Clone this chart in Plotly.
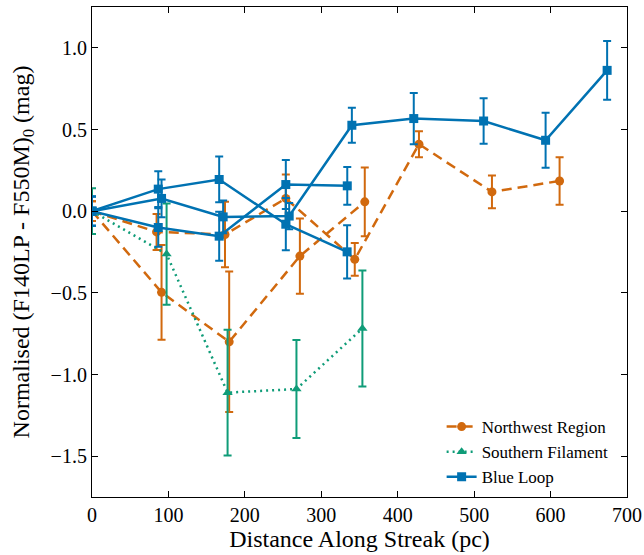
import plotly.graph_objects as go

# Northwest Region (two tracks)
nw_a_x = [0, 84.5, 174, 253.6, 343.8, 427.8, 523.3, 611.8]
nw_a_y = [0, -0.127, -0.143, 0.078, -0.295, 0.41, 0.118, 0.185]
nw_a_err = [0.06, 0.11, 0.2, 0.146, 0.1, 0.08, 0.1, 0.145]
nw_b_x = [0, 91, 179.5, 272, 356.9]
nw_b_y = [0, -0.497, -0.80, -0.275, 0.057]
nw_b_err = [0.06, 0.29, 0.43, 0.23, 0.21]

# Southern Filament
sf_x = [0, 97.6, 177.4, 267.5, 353.8]
sf_y = [0, -0.263, -1.111, -1.089, -0.718]
sf_err = [0.14, 0.31, 0.385, 0.30, 0.355]

# Blue Loop (three tracks)
bl_a_x = [0, 86.7, 166.4, 253.6, 333.8]
bl_a_y = [0, 0.135, 0.194, -0.08, -0.249]
bl_a_err = [0.09, 0.11, 0.14, 0.16, 0.163]
bl_b_x = [0, 91, 171.6, 258, 340, 421, 512.4, 593.5, 674]
bl_b_y = [0, 0.078, -0.035, -0.03, 0.526, 0.567, 0.552, 0.434, 0.862]
bl_b_err = [0.09, 0.116, 0.1, 0.08, 0.107, 0.157, 0.14, 0.168, 0.18]
bl_c_x = [0, 86.7, 166.4, 253.6, 334]
bl_c_y = [0, -0.10, -0.153, 0.163, 0.155]
bl_c_err = [0.09, 0.118, 0.15, 0.15, 0.115]

x_ticks = [0, 100, 200, 300, 400, 500, 600, 700]
y_ticks = [-1.5, -1.0, -0.5, 0.0, 0.5, 1.0]

ORANGE = "#D1690E"
TEAL = "#0F9C78"
BLUE = "#0072B2"
FONT = "Liberation Serif"

fig = go.Figure()

def add(x, y, err, name, color, dash, symbol, width, show):
    fig.add_trace(go.Scatter(
        x=x, y=y, mode="lines+markers", name=name, legendgroup=name,
        showlegend=show,
        line=dict(color=color, width=width, dash=dash),
        marker=dict(color=color, symbol=symbol, size=9),
        error_y=dict(type="data", array=err, visible=True, color=color,
                     thickness=2, width=4),
    ))

add(nw_a_x, nw_a_y, nw_a_err, "Northwest Region", ORANGE, "10px,6px", "circle", 2.5, True)
add(nw_b_x, nw_b_y, nw_b_err, "Northwest Region", ORANGE, "10px,6px", "circle", 2.5, False)
add(sf_x, sf_y, sf_err, "Southern Filament", TEAL, "2px,4px", "triangle-up", 2.5, True)
add(bl_a_x, bl_a_y, bl_a_err, "Blue Loop", BLUE, "solid", "square", 2.5, True)
add(bl_b_x, bl_b_y, bl_b_err, "Blue Loop", BLUE, "solid", "square", 2.5, False)
add(bl_c_x, bl_c_y, bl_c_err, "Blue Loop", BLUE, "solid", "square", 2.5, False)

axis_common = dict(
    showgrid=False, zeroline=False, showline=True, linecolor="black",
    linewidth=1.2, mirror="allticks", ticks="inside", ticklen=6,
    tickwidth=1, tickcolor="black", automargin=False,
    tickfont=dict(family=FONT, size=20, color="black"),
)

fig.update_layout(
    width=644, height=555,
    margin=dict(l=92, r=17, t=7, b=58),
    paper_bgcolor="white", plot_bgcolor="white",
    font=dict(family=FONT, color="black"),
    xaxis=dict(range=[0, 700], tickvals=x_ticks,
               title=dict(text="Distance Along Streak (pc)",
                          font=dict(family=FONT, size=24), standoff=2),
               **axis_common),
    yaxis=dict(range=[-1.75, 1.25], tickvals=y_ticks, tickformat=".1f",
               title=dict(text="Normalised (F140LP - F550M)<sub>0</sub> (mag)",
                          font=dict(family=FONT, size=24), standoff=14),
               **axis_common),
    legend=dict(x=0.975, y=0.004, xanchor="right", yanchor="bottom",
                bgcolor="rgba(0,0,0,0)", font=dict(family=FONT, size=17),
                tracegroupgap=0),
)

fig.write_html("out.html", config={"displayModeBar": False},
               post_script="document.body.style.margin='0';document.body.style.padding='0';")
